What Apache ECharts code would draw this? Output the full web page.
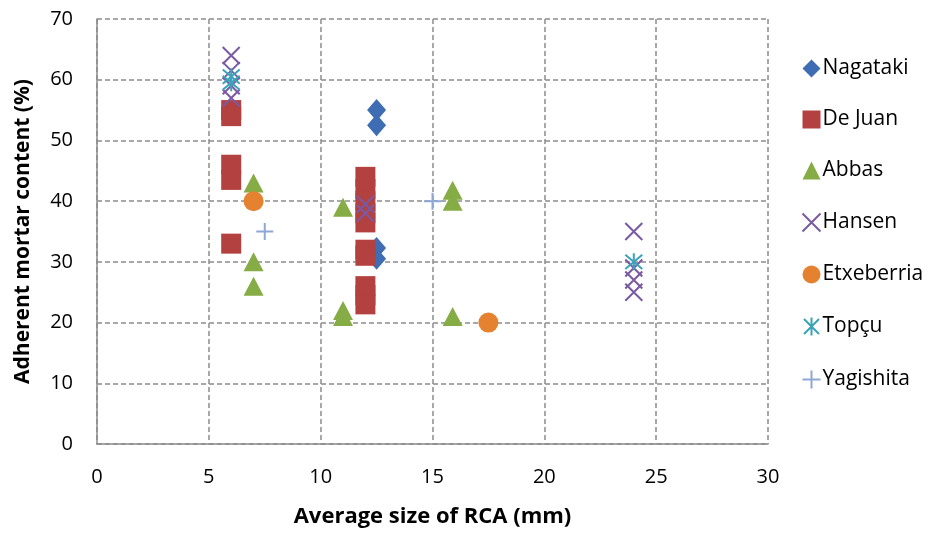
<!DOCTYPE html>
<html><head><meta charset="utf-8">
<script src="https://cdn.jsdelivr.net/npm/echarts@6/dist/echarts.min.js"></script>
<style>html,body{margin:0;padding:0;background:#fff}#c{width:931px;height:533px}</style>
</head><body><div id="c"></div>
<script>
var seriesNames = ['Nagataki','De Juan','Abbas','Hansen','Etxeberria','Topçu','Yagishita'];
var nagataki = [[12.5,55],[12.5,52.5],[12.5,32.3],[12.5,30.5]];
var deJuan = [[6,55],[6,54],[6,46],[6,43.5],[6,33],[12,44],[12,42],[12,40],[12,38],[12,36.5],[12,32],[12,31],[12,26],[12,24.5],[12,23]];
var abbas = [[7,43],[7,30],[7,26],[11,39],[11,22],[11,21],[15.9,41.8],[15.9,40],[15.9,21]];
var hansen = [[6,64],[6,61.5],[6,59],[6,57],[12,39.5],[12,38],[24,35],[24,29],[24,27],[24,25]];
var etxeberria = [[7,40],[17.5,20]];
var topcu = [[6,60.5],[6,59.5],[24,30]];
var yagishita = [[7.5,35],[15,40]];
var xTicks = [0,5,10,15,20,25,30];
var yTicks = [0,10,20,30,40,50,60,70];

var colors = ['#3F6DB3','#B3413F','#86AC45','#7A5AA2','#E5822F','#3AA3BA','#8EA8D6'];
var font = '"Open Sans", Lato, sans-serif';
var XPATH = 'path://M0,0L10,10M10,0L0,10';
var ASTER = 'path://M0,0L10,10M10,0L0,10M5,-1L5,11';
var PLUS = 'path://M5,0L5,10M0,5L10,5';

function strokeSeries(name, data, sym, color, size, width){
  return {name:name, type:'scatter', data:data, symbol:sym, symbolSize:size,
    itemStyle:{color:'none', borderColor:color, borderWidth:width, opacity:1}};
}
var chart = echarts.init(document.getElementById('c'));
chart.setOption({
  animation:false,
  grid:{left:97, right:163, top:19, bottom:87},
  legend:{orient:'vertical', left:795, top:53, itemGap:30, itemWidth:18, itemHeight:18,
    textStyle:{fontFamily:font, fontSize:21, color:'#000', padding:[0,0,0,-3]},
    data:seriesNames},
  xAxis:{type:'value', min:0, max:30, interval:5,
    name:'Average size of RCA (mm)', nameLocation:'middle', nameGap:62,
    nameTextStyle:{fontFamily:font, fontSize:22, fontWeight:'bold', color:'#000'},
    axisLine:{show:true, lineStyle:{color:'#8c8c8c', width:1.5}},
    axisTick:{show:false},
    axisLabel:{fontFamily:font, fontSize:20, color:'#000', margin:23,
      formatter:function(v){return xTicks.indexOf(v)>=0?String(v):'';}},
    splitLine:{show:true, lineStyle:{color:'#8c8c8c', type:[5,3], width:1.5}}},
  yAxis:{type:'value', min:0, max:70, interval:10,
    name:'Adherent mortar content (%)', nameLocation:'middle', nameGap:63,
    nameTextStyle:{fontFamily:font, fontSize:21, fontWeight:'bold', color:'#000'},
    axisLine:{show:true, lineStyle:{color:'#8c8c8c', width:1.5}},
    axisTick:{show:false},
    axisLabel:{fontFamily:font, fontSize:20, color:'#000', margin:24,
      formatter:function(v){return yTicks.indexOf(v)>=0?String(v):'';}},
    splitLine:{show:true, lineStyle:{color:'#8c8c8c', type:[5,3], width:1.5}}},
  color:colors,
  series:[
    {name:seriesNames[0], type:'scatter', data:nagataki, symbol:'diamond', symbolSize:[19,22], itemStyle:{color:colors[0], opacity:1}},
    {name:seriesNames[1], type:'scatter', data:deJuan, symbol:'rect', symbolSize:20, itemStyle:{color:colors[1], opacity:1}},
    {name:seriesNames[2], type:'scatter', data:abbas, symbol:'triangle', symbolSize:[20,19], itemStyle:{color:colors[2], opacity:1}},
    strokeSeries(seriesNames[3], hansen, XPATH, colors[3], 17, 2),
    {name:seriesNames[4], type:'scatter', data:etxeberria, symbol:'circle', symbolSize:20, itemStyle:{color:colors[4], opacity:1}},
    strokeSeries(seriesNames[5], topcu, ASTER, colors[5], 17, 2),
    strokeSeries(seriesNames[6], yagishita, PLUS, colors[6], 17, 2)
  ]
});
</script></body></html>
